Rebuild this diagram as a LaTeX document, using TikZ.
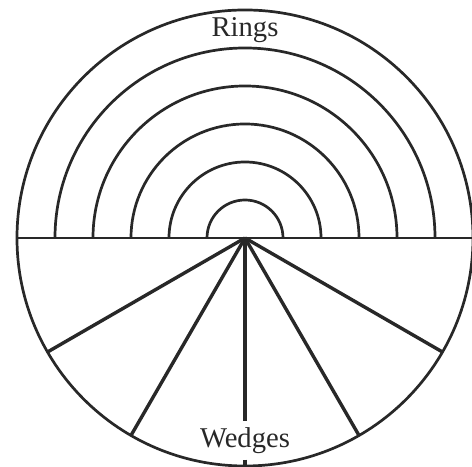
\documentclass[tikz,border=0pt]{standalone}
\usepackage{fontspec}
\setmainfont{Liberation Serif}
\usepackage{xcolor}
\definecolor{inkgray}{RGB}{40,40,40}
\usetikzlibrary{positioning}

\begin{document}
\begin{tikzpicture}[
      rim/.style={draw=inkgray,line width=1.35pt},
      spoke/.style={draw=inkgray,line width=1.7pt},
      lbl/.style={font=\fontsize{14.3}{17}\selectfont,text=inkgray,anchor=base,inner sep=3pt}
    ]
      \useasboundingbox (-4.298,-4.0) rectangle (3.982,4.175);
      % Outer circle and diameter
      \coordinate (o) at (0,0);
      \coordinate (west) at (180:4);
      \coordinate (east) at (0:4);
      \draw[rim] (o) circle (4);
      \draw[rim] (west) -- (east);
      % Rings
      \foreach \r in {1,...,5}
        \draw[rim] (\r*4/6,0) arc (0:180:\r*4/6);
      \node[lbl] (rings) at (0,3.526) {Rings};
      % Wedges
      \node[lbl] (wedges) at (0,-3.667) {Wedges};
      \foreach \a in {210,240,270,300,330}
        \coordinate (e\a) at (\a:4);
      \foreach \a in {210,240,300,330}
        \draw[spoke] (o) -- (e\a);
      \draw[spoke] (o) -- (wedges.north);
      \draw[spoke] (wedges.south) -- (e270);
    \end{tikzpicture}
\end{document}
